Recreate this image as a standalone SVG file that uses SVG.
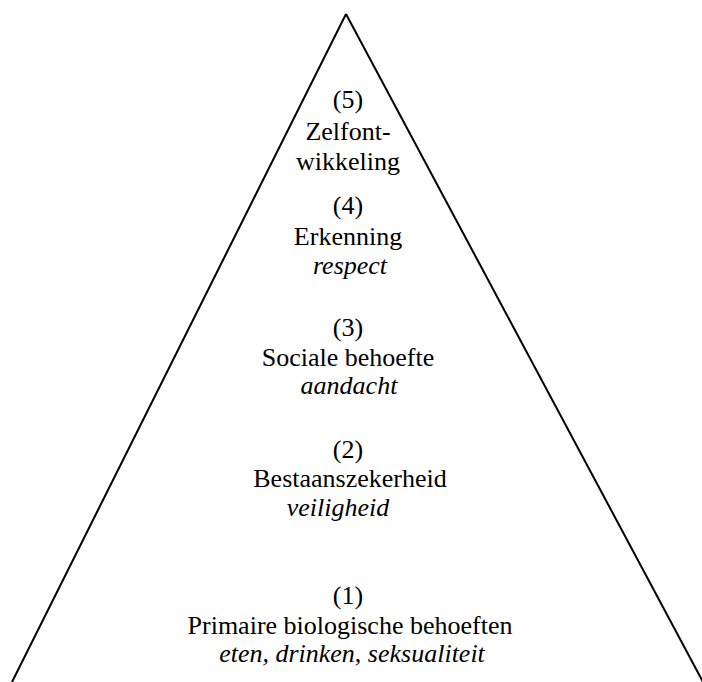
<svg xmlns="http://www.w3.org/2000/svg" width="702" height="682" viewBox="0 0 702 682">
<style>
.t{font-family:"Liberation Serif","Times New Roman",serif;font-size:26px;fill:#000;text-anchor:middle}
.i{font-style:italic}
.edge{stroke:#000;stroke-width:2;fill:none}
</style>
<rect width="702" height="682" fill="#fff"/>
<g id="connectors">
<line class="edge" x1="346" y1="14" x2="12" y2="682"/>
<line class="edge" x1="346" y1="14" x2="703" y2="682"/>
</g>
<g id="level5">
<text class="t" x="348" y="108">(5)</text>
<text class="t" x="348" y="140">Zelfont-</text>
<text class="t" x="348" y="170">wikkeling</text>
</g>
<g id="level4">
<text class="t" x="348" y="214">(4)</text>
<text class="t" x="348" y="245">Erkenning</text>
<text class="t i" x="350" y="274">respect</text>
</g>
<g id="level3">
<text class="t" x="348" y="336">(3)</text>
<text class="t" x="348" y="366">Sociale behoefte</text>
<text class="t i" x="349" y="394">aandacht</text>
</g>
<g id="level2">
<text class="t" x="348" y="458">(2)</text>
<text class="t" x="350" y="487">Bestaanszekerheid</text>
<text class="t i" x="338" y="516">veiligheid</text>
</g>
<g id="level1">
<text class="t" x="348" y="604">(1)</text>
<text class="t" x="350" y="634">Primaire biologische behoeften</text>
<text class="t i" x="352" y="662">eten, drinken, seksualiteit</text>
</g>
</svg>
